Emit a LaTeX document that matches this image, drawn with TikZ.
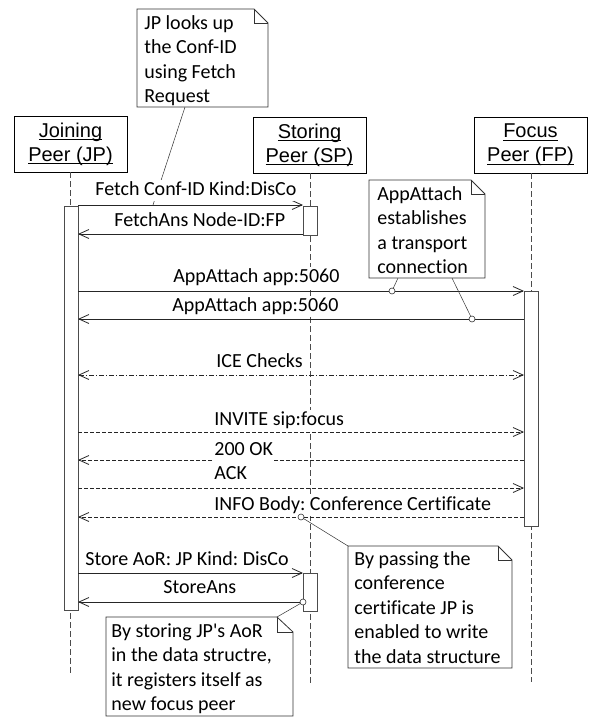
\documentclass[tikz,border=0pt]{standalone}
\usepackage{fontspec}
\setmainfont{Carlito}[Ligatures={NoCommon}]
\newfontfamily\arialfont{Liberation Sans}
\usetikzlibrary{arrows.meta}
\newcommand\ulin[1]{\leavevmode\setbox0\hbox{#1}\rlap{\rule[-3.2pt]{\wd0}{1pt}}\box0}
\begin{document}
\frenchspacing
\begin{tikzpicture}[x=1pt,y=-1pt,
  line width=0.8pt,
  lifebox/.style={draw, minimum width=113pt, minimum height=56pt, align=center, font={\arialfont\fontsize{20}{24}\selectfont}, inner sep=0pt},
  lifeline/.style={dash pattern=on 6pt off 3pt, black!70},
  actbox/.style={draw=black!70, fill=white, line width=0.8pt},
  msg/.style={-{Straight Barb[length=10pt,width=9pt]}, black!85},
  reply/.style={msg, dash pattern=on 4pt off 2pt},
  icemsg/.style={{Straight Barb[length=10pt,width=9pt]}-{Straight Barb[length=10pt,width=9pt]}, black!85, dash pattern=on 5pt off 2pt on 1pt off 2pt},
  lbl/.style={fill=white, inner xsep=1pt, inner ysep=0.5pt, text height=15pt, text depth=5.5pt, anchor=base west, font=\fontsize{20}{24.5}\selectfont},
  notetext/.style={anchor=north west, align=left, inner sep=0pt, font=\fontsize{20}{24.5}\selectfont},
  notebox/.style={draw=black!80, fill=white, line width=0.8pt},
  attach/.style={line width=0.5pt, black!80},
  dot/.style={circle, draw=black!80, fill=white, inner sep=0pt, minimum size=6pt, line width=0.6pt}
]
\useasboundingbox (0,0) rectangle (591,718);

% heads
\node[lifebox] (jp) at (70.5,144) {\ulin{Joining}\\\ulin{Peer (JP)}};
\node[lifebox] (sp) at (309.5,145) {\ulin{Storing}\\\ulin{Peer (SP)}};
\node[lifebox] (fp) at (530.5,145) {\ulin{Focus}\\\ulin{Peer (FP)}};

% lifeline ends
\coordinate (jpend) at (70,675);
\coordinate (spend) at (310,685);
\coordinate (fpend) at (531,682);
\draw[lifeline] (jp.south -| jpend) -- (jpend);
\draw[lifeline] (sp.south -| spend) -- (spend);
\draw[lifeline] (fp.south -| fpend) -- (fpend);

% activation boxes
\node[actbox, minimum width=14pt, minimum height=404pt, inner sep=0pt] (jpact) at (71,408) {};
\node[actbox, minimum width=14pt, minimum height=29pt, inner sep=0pt] (spact1) at (310,220.5) {};
\node[actbox, minimum width=14pt, minimum height=38pt, inner sep=0pt] (spact2) at (310,592) {};
\node[actbox, minimum width=14pt, minimum height=235pt, inner sep=0pt] (fpact) at (531,408.5) {};

% message endpoints
\coordinate (m1a) at (78,205);  \coordinate (m1b) at (303,205);
\coordinate (m2a) at (303,234); \coordinate (m2b) at (78,234);
\coordinate (m3a) at (78,291);  \coordinate (m3b) at (524,291);
\coordinate (m4a) at (524,319); \coordinate (m4b) at (78,319);
\coordinate (m5a) at (78,375);  \coordinate (m5b) at (524,375);
\coordinate (m6a) at (78,432);  \coordinate (m6b) at (524,432);
\coordinate (m7a) at (524,460); \coordinate (m7b) at (78,460);
\coordinate (m8a) at (78,488);  \coordinate (m8b) at (524,488);
\coordinate (m9a) at (524,517); \coordinate (m9b) at (78,517);
\coordinate (m10a) at (78,573); \coordinate (m10b) at (303,573);
\coordinate (m11a) at (303,602);\coordinate (m11b) at (78,602);

\draw[msg] (m1a) -- (m1b);
\draw[msg] (m2a) -- (m2b);
\draw[msg] (m3a) -- (m3b);
\draw[msg] (m4a) -- (m4b);
\draw[icemsg] (m5a) -- (m5b);
\draw[reply] (m6a) -- (m6b);
\draw[reply] (m7a) -- (m7b);
\draw[reply] (m8a) -- (m8b);
\draw[reply] (m9a) -- (m9b);
\draw[msg] (m10a) -- (m10b);
\draw[msg] (m11a) -- (m11b);

% note anchors
\coordinate (n1c) at (185,107);  \coordinate (n1t) at (153,205);
\coordinate (n2c1) at (398,278); \coordinate (n2t1) at (392,291);
\coordinate (n2c2) at (452,278); \coordinate (n2t2) at (472,319);
\coordinate (n3c) at (348,546);  \coordinate (n3t) at (301,517);
\coordinate (n4c) at (277,617);  \coordinate (n4t) at (303,602);

\draw[attach] (n1c) -- (n1t);
\draw[attach] (n2c1) -- (n2t1);
\draw[attach] (n2c2) -- (n2t2);
\draw[attach] (n3c) -- (n3t);
\draw[attach] (n4c) -- (n4t);

% labels
\node[lbl] (l1) at (94,195) {Fetch Conf-ID Kind:DisCo};
\node[lbl] (l2) at (113,226) {FetchAns Node-ID:FP};
\node[lbl] (l3) at (172,282) {AppAttach app:5060};
\node[lbl] (l4) at (171,311) {AppAttach app:5060};
\node[lbl] (l5) at (215,367) {ICE Checks};
\node[lbl] (l6) at (213,425) {INVITE sip:focus};
\node[lbl] (l7) at (213,455) {200 OK};
\node[lbl] (l8) at (213,479) {ACK};
\node[lbl] (l9) at (213,510) {INFO Body: Conference Certificate};
\node[lbl] (l10) at (84,565) {Store AoR: JP Kind: DisCo};
\node[lbl] (l11) at (162,593) {StoreAns};

% notes
\draw[notebox] (137,9) -- (254,9) -- (268,23) -- (268,107) -- (137,107) -- cycle;
\draw[notebox, fill=none] (254,9) -- (254,23) -- (268,23);
\node[notetext] (n1) at (144,15) {JP looks up\\the Conf-ID\\using Fetch\\Request};

\draw[notebox] (369,180) -- (471,180) -- (485,194) -- (485,278) -- (369,278) -- cycle;
\draw[notebox, fill=none] (471,180) -- (471,194) -- (485,194);
\node[notetext] (n2) at (377,186) {AppAttach\\establishes\\a transport\\connection};

\draw[notebox] (348,546) -- (498,546) -- (512,560) -- (512,668) -- (348,668) -- cycle;
\draw[notebox, fill=none] (498,546) -- (498,560) -- (512,560);
\node[notetext] (n3) at (354,551) {By passing the\\conference\\certificate JP is\\enabled to write\\the data structure};

\draw[notebox] (106,617) -- (277,617) -- (293,632) -- (293,716) -- (106,716) -- cycle;
\draw[notebox, fill=none] (277,617) -- (277,632) -- (293,632);
\node[notetext] (n4) at (111,623) {By storing JP\textquotesingle s AoR\\in the data structre,\\it registers itself as\\new focus peer};

% dots
\node[dot] at (n2t1) {};
\node[dot] at (n2t2) {};
\node[dot] at (n3t) {};
\node[dot] at (n4t) {};
\end{tikzpicture}
\end{document}
